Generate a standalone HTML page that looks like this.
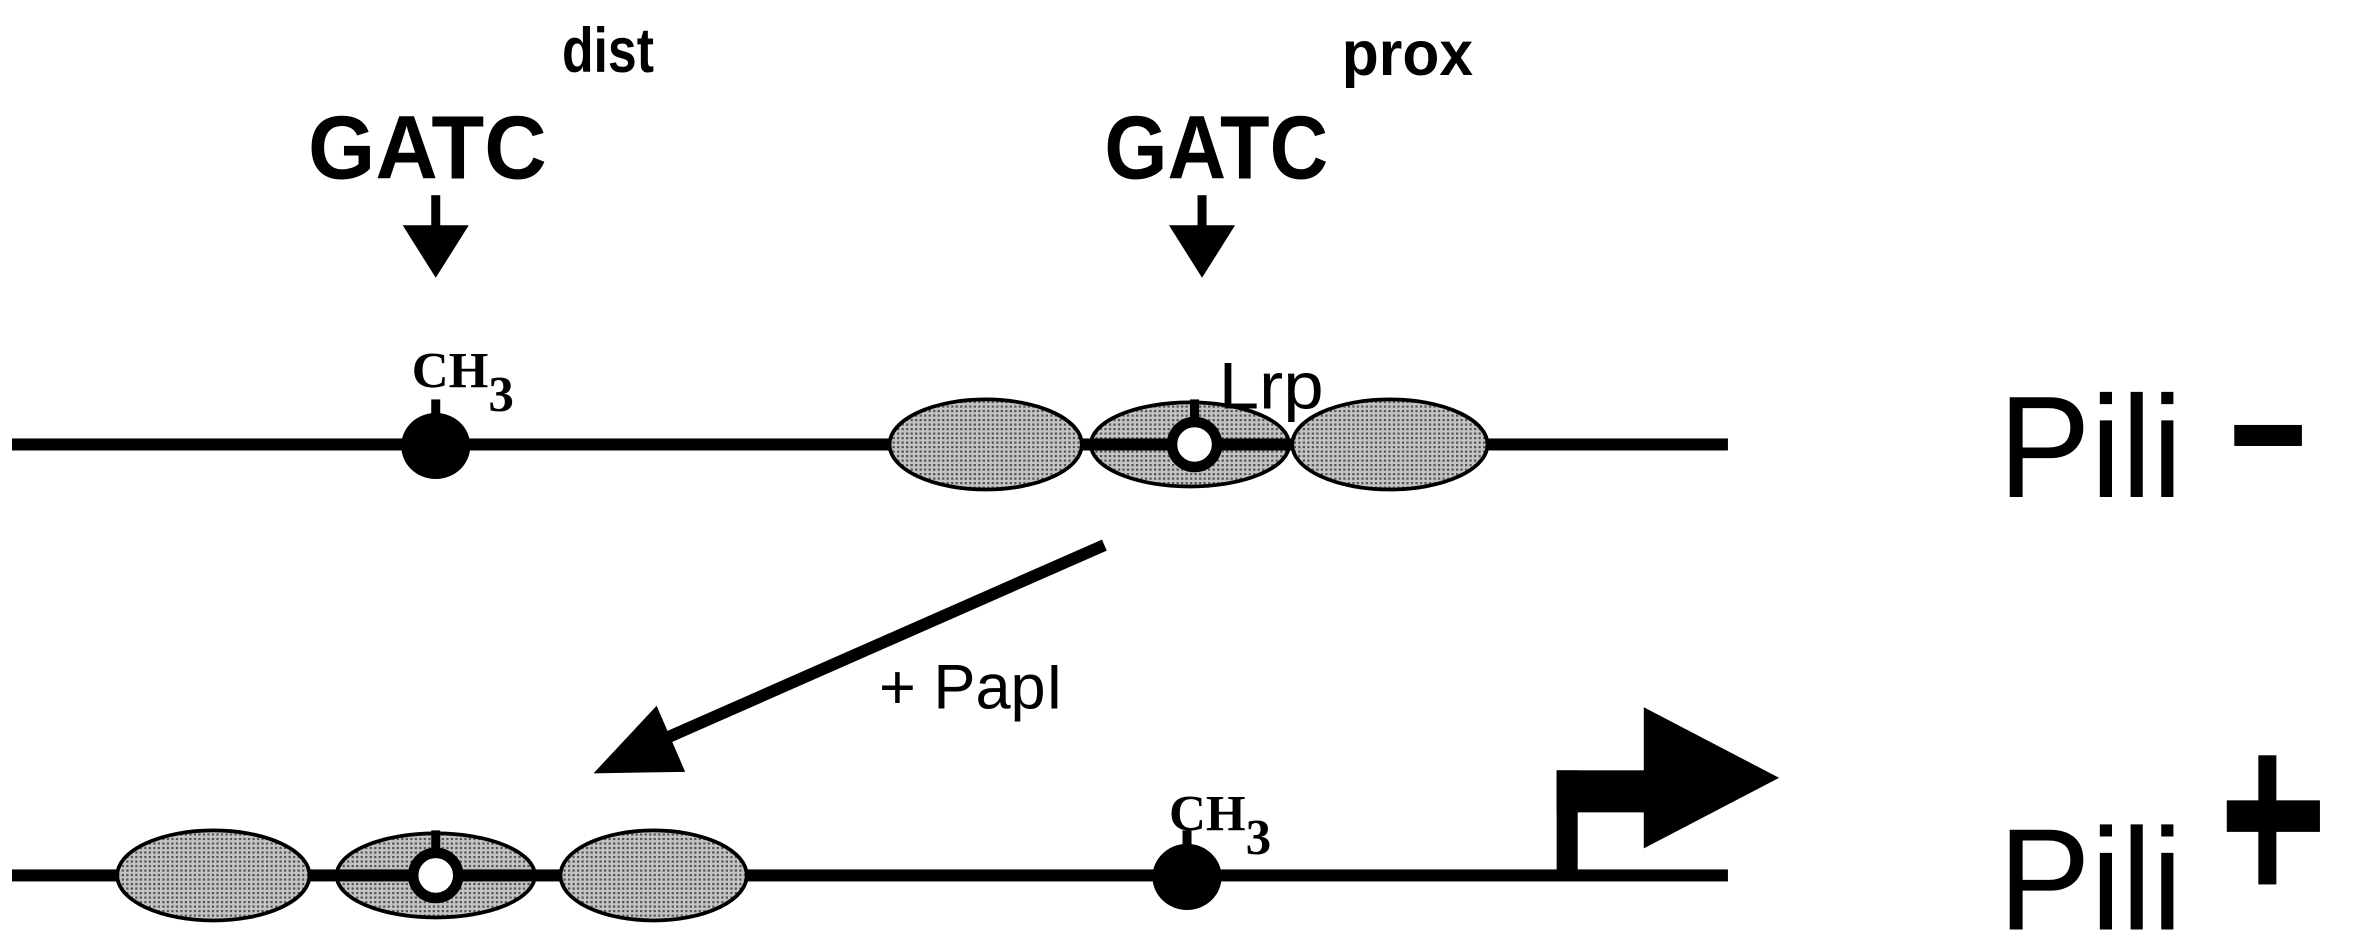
<!DOCTYPE html>
<html><head><meta charset="utf-8"><style>
html,body{margin:0;padding:0;background:#fff;}
svg{display:block;}
text{font-family:"Liberation Sans",sans-serif;}
</style></head><body>
<svg width="2356" height="946" viewBox="0 0 1568 630" preserveAspectRatio="none" xmlns="http://www.w3.org/2000/svg">
<defs>
<pattern id="dots" width="3" height="3" patternUnits="userSpaceOnUse"><rect width="3" height="3" fill="#c4c4c4"/><rect width="1.5" height="1.5" fill="#555"/></pattern>
</defs>
<rect width="1568" height="630" fill="#fff"/>
<g>
<text transform="translate(205,119) scale(0.96,1)" font-size="60" font-weight="bold">GATC</text>
<text transform="translate(374,48) scale(0.82,1)" font-size="42" font-weight="bold">dist</text>
</g>
<g>
<text transform="translate(735,119) scale(0.9,1)" font-size="60" font-weight="bold">GATC</text>
<text transform="translate(893,50) scale(0.96,1)" font-size="42" font-weight="bold">prox</text>
</g>
<g><rect x="287" y="130" width="6" height="22" fill="#000"/><polygon points="268,150 312,150 290,185" fill="#000"/></g>
<g><rect x="797" y="130" width="6" height="22" fill="#000"/><polygon points="778,150 822,150 800,185" fill="#000"/></g>

<g>
<rect x="8" y="292" width="1142" height="8" fill="#000"/>
<ellipse cx="656" cy="296" rx="64" ry="30" fill="url(#dots)" stroke="#000" stroke-width="2.5"/>
<ellipse cx="792" cy="296" rx="66" ry="28" fill="url(#dots)" stroke="#000" stroke-width="2.5"/>
<rect x="726" y="292" width="132" height="8" fill="#000"/>
<ellipse cx="925" cy="296" rx="65" ry="30" fill="url(#dots)" stroke="#000" stroke-width="2.5"/>
<rect x="792" y="266" width="6" height="14" fill="#000"/>
<circle cx="795" cy="296" r="15" fill="#fff" stroke="#000" stroke-width="7"/>
<rect x="287" y="266" width="6" height="14" fill="#000"/>
<ellipse cx="290" cy="297" rx="23" ry="22" fill="#000"/>
</g>
<text transform="translate(274,258)" font-size="34" font-weight="bold" style="font-family:'Liberation Serif',serif">CH<tspan dy="16">3</tspan></text>
<text transform="translate(811,272) scale(1.1,1)" font-size="44">Lrp</text>
<text transform="translate(1330,331) scale(1.0,1.05)" font-size="92">Pili</text>
<rect x="1487" y="283" width="45" height="14" fill="#000"/>

<g>
<line x1="735" y1="363" x2="440" y2="493" stroke="#000" stroke-width="8"/>
<polygon points="395,515 437,470 456,514" fill="#000"/>
</g>
<text transform="translate(585,472)" font-size="42">+ PapI</text>

<g>
<rect x="8" y="579" width="1142" height="8" fill="#000"/>
<ellipse cx="142" cy="583" rx="64" ry="30" fill="url(#dots)" stroke="#000" stroke-width="2.5"/>
<ellipse cx="290" cy="583" rx="66" ry="28" fill="url(#dots)" stroke="#000" stroke-width="2.5"/>
<rect x="224" y="579" width="132" height="8" fill="#000"/>
<ellipse cx="435" cy="583" rx="62" ry="30" fill="url(#dots)" stroke="#000" stroke-width="2.5"/>
<rect x="287" y="553" width="6" height="14" fill="#000"/>
<circle cx="290" cy="583" r="15" fill="#fff" stroke="#000" stroke-width="7"/>
<rect x="787" y="553" width="6" height="14" fill="#000"/>
<ellipse cx="790" cy="584" rx="23" ry="22" fill="#000"/>
</g>
<text transform="translate(778,553)" font-size="34" font-weight="bold" style="font-family:'Liberation Serif',serif">CH<tspan dy="16">3</tspan></text>
<g>
<rect x="1036" y="513" width="14" height="72" fill="#000"/>
<rect x="1036" y="513" width="60" height="28" fill="#000"/>
<polygon points="1094,471 1184,518 1094,565" fill="#000"/>
</g>
<text transform="translate(1330,619) scale(1.0,1.05)" font-size="92">Pili</text>
<g>
<rect x="1482" y="533" width="62" height="21" fill="#000"/>
<rect x="1503" y="503" width="12" height="86" fill="#000"/>
</g>
</svg>
</body></html>
